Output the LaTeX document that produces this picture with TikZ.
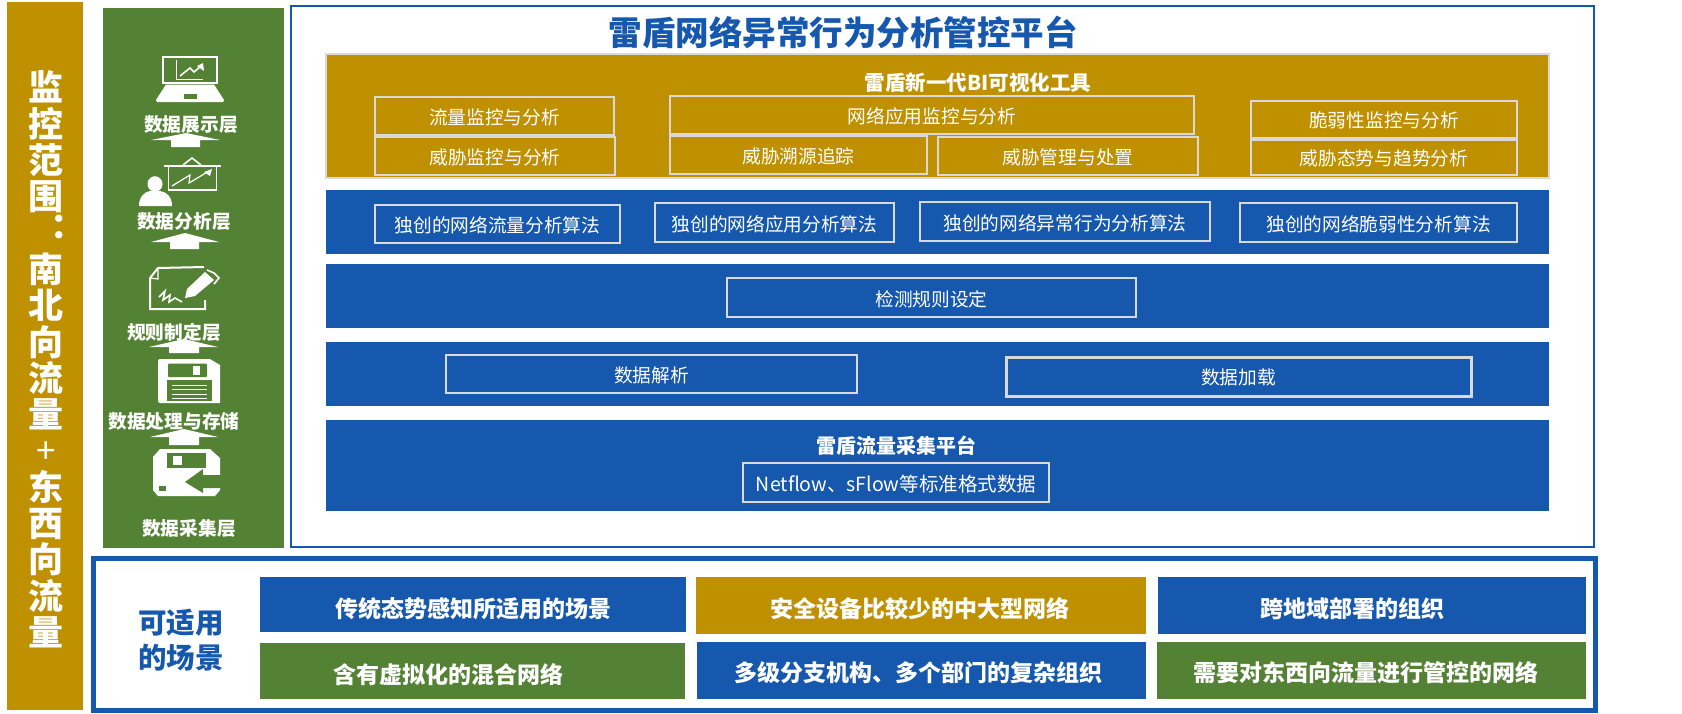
\documentclass[tikz,border=0pt]{standalone}
\usepackage{fontspec}
\setmainfont{Noto Sans CJK SC}
\definecolor{bblue}{HTML}{1658AE}
\definecolor{ggreen}{HTML}{548235}
\definecolor{ggold}{HTML}{BF9000}
\definecolor{ggrey}{HTML}{D9D9D9}
\newcommand\fsz[1]{\fontsize{#1}{#1}\selectfont}
\newcommand\bx[7]{%
  \pgfmathsetmacro\bw{#4-#2}\pgfmathsetmacro\bh{#5-#3}%
  \pgfmathsetmacro\bcx{(#2+#4)/2}\pgfmathsetmacro\bcy{(#3+#5)/2}%
  \node (#1) [#6,minimum width=\bw pt,minimum height=\bh pt] at (\bcx,\bcy) {#7};}
\newcommand\uparr[8]{\fill[white] (#1,#2) -- (#4,#5) -- (#7,#5) -- (#7,#8) -- (#6,#8) -- (#6,#5) -- (#3,#5) -- cycle;}
% shift a line of text right by #1 and down by #2 inside its box
\newcommand\shf[3]{\hspace*{#1pt}\hspace*{#1pt}\raisebox{-#2pt}{#3}}
\tikzset{
  x=1pt,y=-1pt,
  boxbase/.style={inner sep=0pt,outer sep=0pt,align=center,execute at begin node={\rule[-.1em]{0pt}{1.12em}}},
  band/.style={boxbase,fill=bblue,draw=none},
  inbox/.style={boxbase,draw=ggrey,line width=2pt,text=white,font=\fsz{18.7}},
  head/.style={boxbase,text=white,font=\bfseries\fsz{20.5}},
  scen/.style={boxbase,text=white,font=\bfseries\fsz{23}},
  layer/.style={boxbase,text=white,font=\bfseries\fsz{18.7}},
  iconl/.style={draw=white,line width=1.6pt,fill=none},
}
\begin{document}
\begin{tikzpicture}
\useasboundingbox (0,0) rectangle (1682,713);
\fill[white] (0,0) rectangle (1682,713);
% left column
\bx{scope}{7}{2}{83}{710}{fill=ggold,inner sep=0pt}{}
\node (scopetxt) [inner sep=0pt,align=center,text=white,font=\bfseries\fontsize{35}{36.3}\selectfont] at (46,359.5)
 {监\\控\\范\\围\\\makebox[0pt]{\hspace*{44pt}\raisebox{8pt}{：}}\\南\\北\\向\\流\\量\\{\mdseries +}\\东\\西\\向\\流\\量};
% layers panel
\bx{layers}{103}{8}{284}{548}{fill=ggreen,inner sep=0pt}{}
% laptop
\draw[iconl] (163,57) rectangle (217,83);
\fill[white] (166,84.5) -- (214,84.5) -- (224,100) -- (223,102) -- (157,102) -- (156,100) -- cycle;
\fill[ggreen] (184,94) rectangle (197,99);
\draw[white,line width=.9pt] (176,60) -- (176,79) -- (203,79);
\draw[white,line width=1.6pt] (180,76) -- (190,68) -- (194,72) -- (201,66);
\fill[white] (203,63) -- (204,71) -- (197,66) -- cycle;
\node (l1) [layer] at (191,123) {数据展示层};
\uparr{186}{133}{151}{220}{140}{171}{200}{147}
% board + person
\draw[white,line width=2pt] (164,166) -- (221,166);
\draw[white,line width=1.6pt] (183,165) -- (192,158) -- (201,165);
\draw[iconl] (168.5,166) rectangle (216.5,190);
\draw[white,line width=1.2pt] (172,186) -- (190,175) -- (189,183) -- (209,171);
\fill[white] (212,169) -- (210,176) -- (204,172) -- cycle;
\fill[white] (155,184) ellipse (7.5 and 7.8);
\fill[white] (139,206) .. controls (139,197) and (144,192) .. (150,191) -- (160,191) .. controls (167,192) and (172,197) .. (172,206) -- cycle;
\node (l2) [layer] at (184,220) {数据分析层};
\uparr{185}{233}{151}{219}{242}{170}{199}{249}
% rule sheet + pen
\draw[white,line width=2pt] (205,300) -- (205,309) -- (150,309) -- (150,278) -- (158,268) -- (204,267);
\draw[white,line width=1.2pt] (150,278) -- (158,279) -- (158,268);
\draw[white,line width=1.6pt] (159,297) -- (165,291) -- (163,300) -- (170,295) -- (169,302) -- (175,298) -- (182,302);
\fill[white] (185,298) -- (187,289) -- (205,272) -- (214,280) -- (195,296) -- cycle;
\draw[white,line width=1.6pt] (207,270) -- (214,273) -- (219,278) -- (214,284);
\node (l3) [layer] at (174,331) {规则制定层};
\uparr{184}{339}{149}{218}{347}{169}{199}{353}
% floppy
\fill[white] (158,361) .. controls (158,360) and (159,359) .. (160,359) -- (210,359) -- (220,365) -- (220,403) -- (160,403) .. controls (159,403) and (158,402) .. (158,401) -- cycle;
\fill[ggreen,rounded corners=1pt] (168,363.5) rectangle (207,377);
\fill[white] (193,366) rectangle (200,375);
\fill[ggreen] (167,380) rectangle (212,401);
\foreach \ly in {385,389.5,394,398} \draw[white,line width=1pt] (172,\ly) -- (207,\ly);
\node (l4) [layer] at (174,420) {数据处理与存储};
\uparr{184}{429}{150}{218}{437}{169}{199}{445}
% floppy with arrow
\fill[white] (153,457) -- (160,449) -- (210,449) -- (220,458) -- (220,490) -- (215,496) -- (158,496) -- (153,490) -- cycle;
\fill[ggreen] (167,453) rectangle (206,468);
\fill[white] (173,456) rectangle (182,465);
\fill[ggreen] (159,486) rectangle (166,491);
\fill[ggreen] (185,482) -- (203,469) -- (203,475) -- (221,475) -- (221,488) -- (203,488) -- (203,493) -- cycle;
\node (l5) [layer] at (189,527) {数据采集层};
% main frame
\bx{main}{291.2}{6.2}{1594}{547}{draw=bblue,line width=2.4pt,fill=white,inner sep=0pt}{}
\node (title) [boxbase,text=bblue,font=\bfseries\fsz{33.5}] at (843,30.5) {雷盾网络异常行为分析管控平台};
% gold tier
\bx{goldt}{326}{54}{1549}{178}{fill=ggold,draw=ggrey,line width=2pt,inner sep=0pt}{}
\node (goldh) [head] at (978,81) {雷盾新一代BI可视化工具};
\bx{a1}{375}{97}{614}{135}{inbox}{流量监控与分析}
\bx{a2}{375}{137}{615}{175}{inbox}{威胁监控与分析}
\bx{a3}{670}{96}{1194}{134}{inbox}{网络应用监控与分析}
\bx{a4}{670}{136}{927}{174}{inbox}{威胁溯源追踪}
\bx{a5}{938}{136.5}{1198}{175}{inbox}{威胁管理与处置}
\bx{a6}{1251}{101}{1517}{137.5}{inbox}{脆弱性监控与分析}
\bx{a7}{1251}{139.5}{1517}{175}{inbox}{威胁态势与趋势分析}
% blue tiers
\bx{b1}{326}{190}{1549}{254}{band}{}
\bx{b2}{326}{264}{1549}{328}{band}{}
\bx{b3}{326}{342}{1549}{406}{band}{}
\bx{b4}{326}{420}{1549}{511}{band}{}
\bx{c1}{375}{205}{620}{243}{inbox}{独创的网络流量分析算法}
\bx{c2}{655}{203}{894}{242}{inbox}{独创的网络应用分析算法}
\bx{c3}{920}{202}{1210}{241}{inbox}{独创的网络异常行为分析算法}
\bx{c4}{1240}{203}{1517}{242}{inbox}{独创的网络脆弱性分析算法}
\bx{d1}{727}{278}{1136}{317}{inbox}{检测规则设定}
\bx{e1}{446}{355}{857}{393}{inbox}{数据解析}
\bx{e2}{1006}{357}{1471}{396}{inbox,line width=3pt}{\shf{0}{-1}{数据加载}}
\node (fh) [head,font=\bfseries\fsz{20}] at (896,444) {雷盾流量采集平台};
\bx{f1}{743}{463}{1049}{502}{inbox,font=\fsz{19.5}}{Netflow、sFlow等标准格式数据}
% scenarios
\bx{sframe}{93.5}{558.5}{1595.5}{710.5}{draw=bblue,line width=5pt,fill=white,inner sep=0pt}{}
\node (stitle) [boxbase,text=bblue,font=\bfseries\fsz{28.5}] at (181,620.5) {可适用};
\node (stitleb) [boxbase,text=bblue,font=\bfseries\fsz{28.5}] at (181,655) {的场景};
\bx{s1}{260}{577}{686}{632}{scen,fill=bblue}{\shf{0}{4.5}{传统态势感知所适用的场景}}
\bx{s2}{696}{577}{1146}{634}{scen,fill=ggold}{\shf{-1.5}{3.5}{安全设备比较少的中大型网络}}
\bx{s3}{1158}{577}{1586}{634}{scen,fill=bblue}{\shf{-20}{3.5}{跨地域部署的组织}}
\bx{s4}{260}{643}{685}{699}{scen,fill=ggreen}{\shf{-24.5}{3}{含有虚拟化的混合网络}}
\bx{s5}{697}{642}{1146}{699}{scen,fill=bblue}{\shf{-3}{0}{多级分支机构、多个部门的复杂组织}}
\bx{s6}{1157}{642}{1586}{699}{scen,fill=ggreen}{\shf{-6}{0}{需要对东西向流量进行管控的网络}}
\end{tikzpicture}
\end{document}
